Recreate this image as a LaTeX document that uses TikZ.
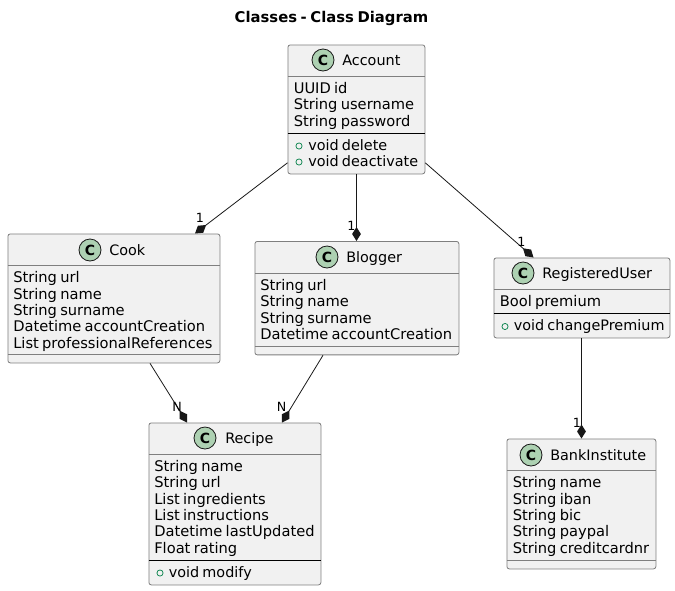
\documentclass[tikz,border=0pt]{standalone}
\usepackage{fontspec}
\setmainfont{DejaVu Sans}[WordSpace=0.7]
\usetikzlibrary{arrows.meta,calc}
\definecolor{boxfill}{HTML}{F1F1F1}
\definecolor{boxline}{HTML}{7F7F7F}
\definecolor{spotfill}{HTML}{ADD1B2}
\definecolor{methgreen}{HTML}{038048}
\definecolor{inkline}{HTML}{181818}
\tikzset{
  x=0.75pt,y=-0.75pt,
  classbox/.style={draw=boxline,fill=boxfill,line width=0.6pt,rounded corners=1.8pt,inner sep=0pt,anchor=north west},
  classname/.style={font=\fontsize{10.8pt}{12pt}\selectfont,text=black,inner sep=0pt,anchor=base west},
  members/.style={font=\fontsize{11pt}{12.25pt}\selectfont,text=black,inner sep=0pt,anchor=north west,align=left},
  methods/.style={members,font=\fontsize{10.8pt}{12.25pt}\selectfont},
  spot/.style={circle,draw=inkline,fill=spotfill,line width=0.6pt,minimum size=16.5pt,inner sep=0pt,font=\fontsize{10.5pt}{12pt}\bfseries\selectfont,text=black},
  headrule/.style={draw=boxline,line width=0.6pt},
  blackrule/.style={draw=black,line width=0.6pt},
  methmark/.style={circle,draw=methgreen,line width=0.55pt,minimum size=4.6pt,inner sep=0pt},
  comp/.style={draw=inkline,line width=0.6pt,-{Diamond[length=10.5pt,width=6.6pt,fill=inkline,line width=0pt]}},
  mult/.style={font=\fontsize{9.5pt}{11pt}\selectfont,text=black,inner sep=0pt},
}
\begin{document}
\begin{tikzpicture}
\useasboundingbox (0,0) rectangle (675,590);
\node[font=\fontsize{11.1pt}{12pt}\bfseries\selectfont,inner sep=0pt] (title) at (331.5,18.5) {Classes - Class Diagram};

% Account
\node[classbox,minimum width=102.75pt,minimum height=96.75pt] (account) at (287.5,44.5) {};
\node[spot] (accountspot) at (323,60) {C};
\node[classname] (accountname) at (342,65) {Account};
\draw[headrule] (287.5,76.5) -- (424.5,76.5);
\node[members] (accountattrs) at (293.5,82) {UUID id\\String username\\String password};
\draw[blackrule] (287.5,133.5) -- (424.5,133.5);
\node[methods] (accountmeths) at (308,139) {void delete\\void deactivate};
\node[methmark] (am1) at (299,146) {};
\node[methmark] (am2) at (299,162) {};

% Cook
\node[classbox,minimum width=159pt,minimum height=96.75pt] (cook) at (7.5,233.5) {};
\node[spot] (cookspot) at (90,250) {C};
\node[classname] (cookname) at (109,255) {Cook};
\draw[headrule] (7.5,265.5) -- (219.5,265.5);
\node[members] (cookattrs) at (13,271.5) {String url\\String name\\String surname\\Datetime accountCreation\\List professionalReferences};
\draw[headrule] (7.5,354.5) -- (219.5,354.5);

% Blogger
\node[classbox,minimum width=153pt,minimum height=85.1pt] (blogger) at (254.5,241) {};
\node[spot] (bloggerspot) at (327,257) {C};
\node[classname] (bloggername) at (346,262) {Blogger};
\draw[headrule] (254.5,273.5) -- (458.5,273.5);
\node[members] (bloggerattrs) at (260,279) {String url\\String name\\String surname\\Datetime accountCreation};
\draw[headrule] (254.5,346.5) -- (458.5,346.5);

% RegisteredUser
\node[classbox,minimum width=132pt,minimum height=60pt] (reguser) at (493.5,257.5) {};
\node[spot] (reguserspot) at (523,273) {C};
\node[classname] (regusername) at (542,278) {RegisteredUser};
\draw[headrule] (493.5,289.5) -- (669.5,289.5);
\node[members] (reguserattrs) at (499.5,295) {Bool premium};
\draw[blackrule] (493.5,313.5) -- (669.5,313.5);
\node[methods] (regusermeths) at (513.5,319.5) {void changePremium};
\node[methmark] (rm1) at (505,326.5) {};

% BankInstitute
\node[classbox,minimum width=111.75pt,minimum height=97.5pt] (bank) at (506.5,438.5) {};
\node[spot] (bankspot) at (531,455) {C};
\node[classname] (bankname) at (550,460) {BankInstitute};
\draw[headrule] (506.5,470.5) -- (655.5,470.5);
\node[members] (bankattrs) at (512.5,476.5) {String name\\String iban\\String bic\\String paypal\\String creditcardnr};
\draw[headrule] (506.5,560.5) -- (655.5,560.5);

% Recipe
\node[classbox,minimum width=129pt,minimum height=121.5pt] (recipe) at (148.5,422.5) {};
\node[spot] (recipespot) at (205,438) {C};
\node[classname] (recipename) at (225,443) {Recipe};
\draw[headrule] (148.5,454.5) -- (320.5,454.5);
\node[members] (recipeattrs) at (154,460) {String name\\String url\\List ingredients\\List instructions\\Datetime lastUpdated\\Float rating};
\draw[blackrule] (148.5,560.5) -- (320.5,560.5);
\node[methods] (recipemeths) at (168.5,566) {void modify};
\node[methmark] (rcm1) at (160,573) {};

% Connectors
\draw[comp] ($(account.south west)+(0,-11.5)$) -- ($(cook.north west)+(187.5,0)$);
\draw[comp] ($(account.south west)+(69,0)$) -- ($(blogger.north west)+(102,0)$);
\draw[comp] ($(account.south east)+(0,-11.5)$) -- ($(reguser.north west)+(40,0)$);
\draw[comp] ($(cook.south west)+(142.5,0)$) -- ($(recipe.north west)+(38.5,0)$);
\draw[comp] ($(blogger.south west)+(68.5,0)$) -- ($(recipe.north west)+(133.5,0)$);
\draw[comp] ($(reguser.south west)+(88,0)$) -- ($(bank.north west)+(75,0)$);

% Multiplicities
\node[mult] (m1) at (200,218) {1};
\node[mult] (m2) at (351.5,225.5) {1};
\node[mult] (m3) at (521.5,241.5) {1};
\node[mult] (m4) at (177,407) {N};
\node[mult] (m5) at (281.5,407) {N};
\node[mult] (m6) at (577,423) {1};
\end{tikzpicture}
\end{document}
